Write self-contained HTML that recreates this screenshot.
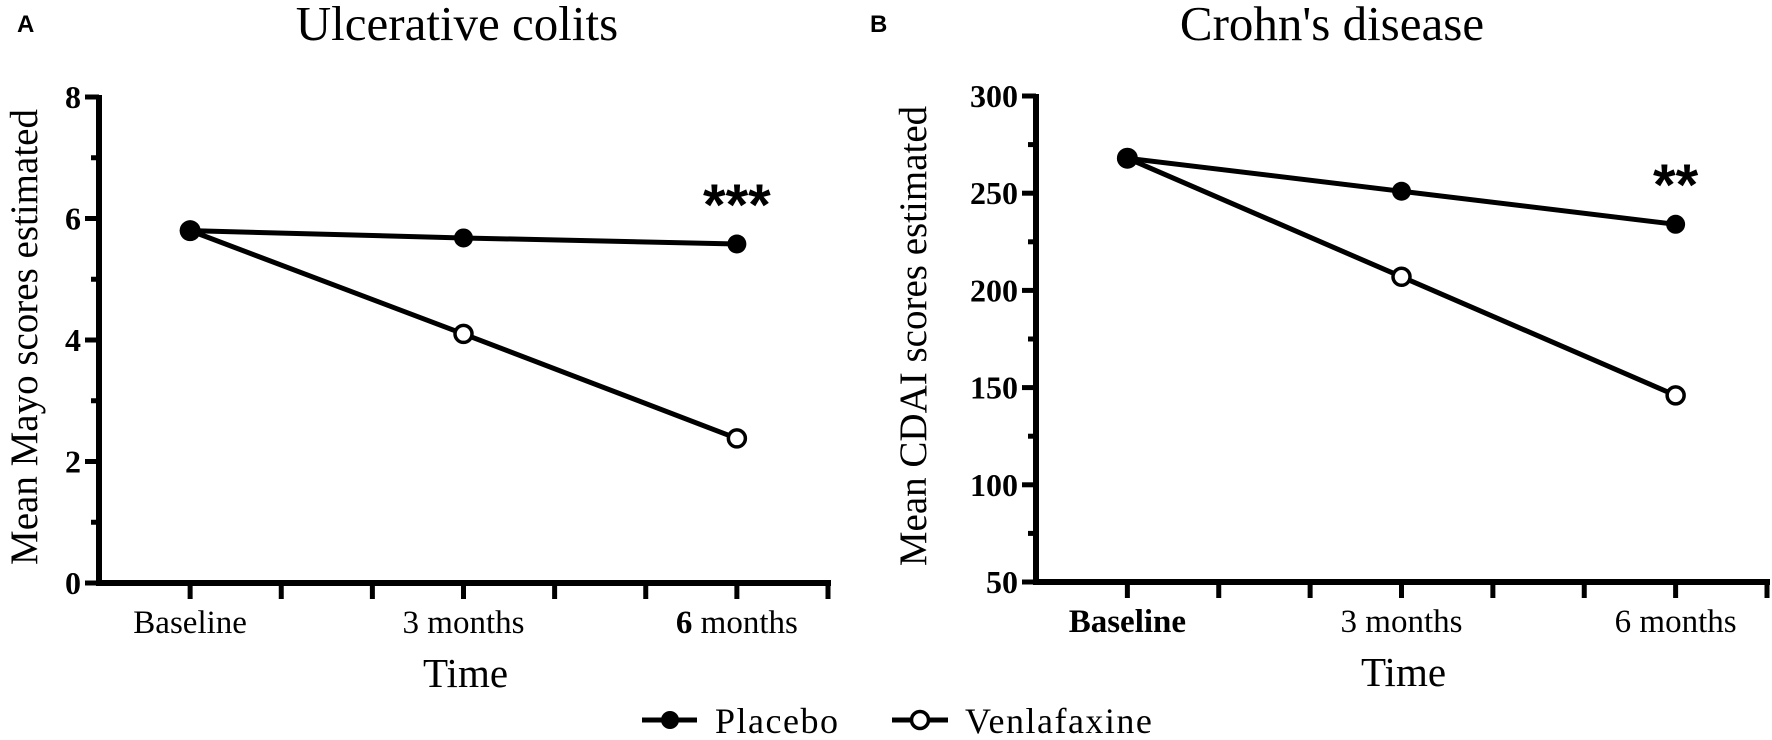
<!DOCTYPE html>
<html><head><meta charset="utf-8"><style>
body{margin:0;background:#fff;}
svg{display:block;font-family:"Liberation Serif",serif;}
</style></head><body>
<svg id="chart" width="1772" height="740" viewBox="0 0 1772 740"></svg>
<script>
const categories = ["Baseline","3 months","6 months"];
const ucPlacebo = [5.8, 5.68, 5.58];
const ucVenlafaxine = [5.8, 4.1, 2.38];
const ucTicks = [0,2,4,6,8];
const cdPlacebo = [268, 251, 234];
const cdVenlafaxine = [268, 207, 146];
const cdTicks = [50,100,150,200,250,300];

const NS="http://www.w3.org/2000/svg";
const svg=document.getElementById('chart');
function mk(tag,attrs,parent,text){const e=document.createElementNS(NS,tag);for(const k in attrs)e.setAttribute(k,attrs[k]);if(text!==undefined)e.textContent=text;(parent||svg).appendChild(e);return e;}

function panel(o){
  const g=mk('g',{});
  
  
  const y=v=>o.y0-(v-o.min)/(o.max-o.min)*(o.y0-o.y1);
  const tickStep=(o.x1-o.x0)/8;
  const x=i=>o.x0+tickStep*(1+3*i);
  const ya=mk('line',{x1:o.x0,y1:o.y1-2,x2:o.x0,y2:o.y0+3,stroke:'#000','stroke-width':6},g);
  
  const xa=mk('line',{x1:o.x0-3,y1:o.y0,x2:o.x1+3,y2:o.y0,stroke:'#000','stroke-width':6},g);
  
  for(let k=0;k<o.ticks.length;k++){
    const v=o.ticks[k];
    mk('line',{x1:o.x0-14,y1:y(v),x2:o.x0,y2:y(v),stroke:'#000','stroke-width':5},g);
    const t=mk('text',{x:o.x0-18,y:y(v)+11,'text-anchor':'end','font-size':32,'font-weight':'bold'},g,String(v));
    
    if(k<o.ticks.length-1){const m=(v+o.ticks[k+1])/2;mk('line',{x1:o.x0-8,y1:y(m),x2:o.x0,y2:y(m),stroke:'#000','stroke-width':5},g);}
  }
  for(let i=1;i<=8;i++){mk('line',{x1:o.x0+tickStep*i,y1:o.y0,x2:o.x0+tickStep*i,y2:o.y0+16,stroke:'#000','stroke-width':5},g);}
  categories.forEach((c,i)=>{
    const t=mk('text',{x:x(i),y:o.y0+50,'text-anchor':'middle','font-size':33},g);
    if(o.boldFirst&&i===0){t.setAttribute('font-weight','bold');t.textContent=c;}
    else if(o.bold6&&i===2){mk('tspan',{'font-weight':'bold'},t,'6');mk('tspan',{},t,' months');}
    else t.textContent=c;
    
  });
  const xt=mk('text',{x:(o.x0+o.x1)/2+2,y:o.y0+104,'text-anchor':'middle','font-size':41},g,'Time');
  
  const yt=mk('text',{x:0,y:0,'text-anchor':'middle','font-size':39,transform:`translate(${o.ytx},${(o.y0+o.y1)/2-3}) rotate(-90)`},g,o.ytitle);
  
  const tt=mk('text',{x:o.titleX,y:40,'text-anchor':'middle','font-size':49},g,o.title);
  
  const lt=mk('text',{x:o.letterX,y:32,'font-size':24,'font-weight':'bold','font-family':'Liberation Sans, sans-serif'},g,o.letter);
  
  const pl=mk('polyline',{points:o.ven.map((v,i)=>x(i)+','+y(v)).join(' '),fill:'none',stroke:'#000','stroke-width':5},g);
  
  const pp=mk('polyline',{points:o.pla.map((v,i)=>x(i)+','+y(v)).join(' '),fill:'none',stroke:'#000','stroke-width':5},g);
  
  o.ven.forEach((v,i)=>{const c=mk('circle',{cx:x(i),cy:y(v),r:8.5,fill:'#fff',stroke:'#000','stroke-width':3.5},g);
    });
  o.pla.forEach((v,i)=>{const c=mk('circle',{cx:x(i),cy:y(v),r:i===0?10.5:9.5,fill:'#000'},g);
    });
  const s=mk('text',{x:x(2),y:o.starY,'text-anchor':'middle','font-size':58,'font-weight':'bold','font-family':'Liberation Sans, sans-serif'},g,o.stars);
  
}
panel({name:'ulcerative-colitis-panel',x0:99,x1:828,y0:583,y1:97,min:0,max:8,ticks:ucTicks,pla:ucPlacebo,ven:ucVenlafaxine,
  ytitle:'Mean Mayo scores estimated',ytx:37,title:'Ulcerative colits',titleX:457,letter:'A',letterX:17,bold6:true,stars:'***',starY:225});
panel({name:'crohns-disease-panel',x0:1036,x1:1767,y0:582,y1:96,min:50,max:300,ticks:cdTicks,pla:cdPlacebo,ven:cdVenlafaxine,
  ytitle:'Mean CDAI scores estimated',ytx:926,title:"Crohn's disease",titleX:1332,letter:'B',letterX:870,boldFirst:true,stars:'**',starY:205});
const lg=mk('g',{});


mk('line',{x1:642,y1:720,x2:697,y2:720,stroke:'#000','stroke-width':5},lg);
mk('circle',{cx:670,cy:720,r:9,fill:'#000'},lg);
const l1=mk('text',{x:715,y:733,'font-size':36,'letter-spacing':1.5},lg,'Placebo');

mk('line',{x1:892,y1:720,x2:948,y2:720,stroke:'#000','stroke-width':5},lg);
mk('circle',{cx:920,cy:720,r:8.5,fill:'#fff',stroke:'#000','stroke-width':3.5},lg);
const l2=mk('text',{x:965,y:733,'font-size':36,'letter-spacing':1.5},lg,'Venlafaxine');

</script>
</body></html>
